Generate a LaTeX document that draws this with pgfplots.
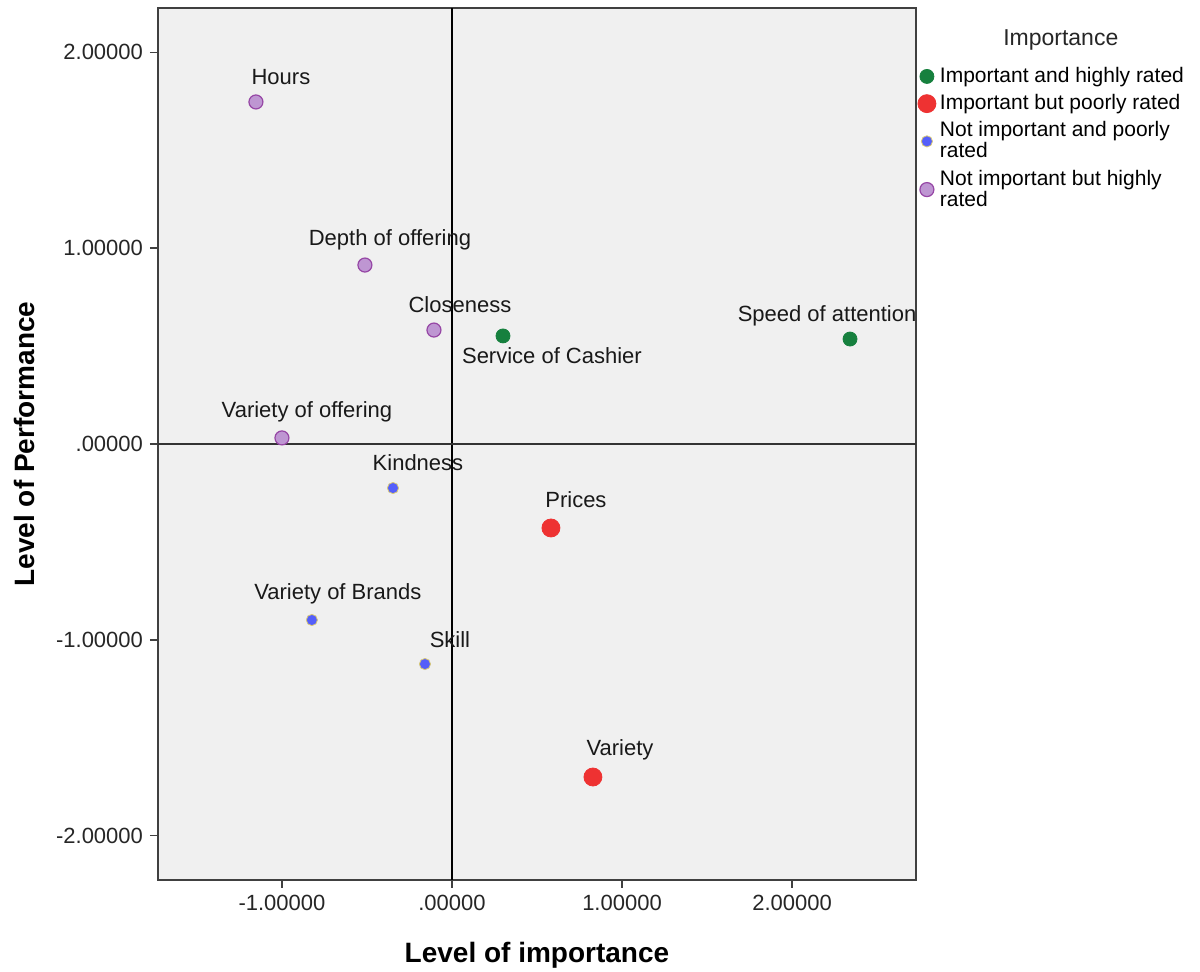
\documentclass[border=0pt]{standalone}
\usepackage{fontspec}
\setmainfont{Liberation Sans}
\usepackage{pgfplots}
\pgfplotsset{compat=1.18}
\definecolor{bgc}{RGB}{240,240,240}
\definecolor{cgreen}{RGB}{22,128,62}
\definecolor{cred}{RGB}{238,50,50}
\definecolor{cblue}{RGB}{85,95,250}
\definecolor{cblueb}{RGB}{215,200,120}
\definecolor{cpurp}{RGB}{190,150,210}
\definecolor{cpurpb}{RGB}{150,70,165}
\begin{document}
\begin{tikzpicture}
\path[use as bounding box] (-79pt,-46pt) rectangle (521pt,440pt);
\begin{axis}[
  scale only axis, width=379pt, height=436pt,
  xmin=-1.729, xmax=2.729, ymin=-2.227, ymax=2.227,
  clip=false,
  axis background/.style={fill=bgc},
  axis line style={line width=1pt, black!75},
  tick align=outside, tick style={line width=0.8pt, black!75},
  xtick pos=bottom, ytick pos=left,
  major tick length=4pt,
  xtick={-1,0,1,2}, xticklabels={-1.00000,.00000,1.00000,2.00000},
  ytick={-2,-1,0,1,2}, yticklabels={-2.00000,-1.00000,.00000,1.00000,2.00000},
  ticklabel style={font=\fontsize{11}{13}\selectfont, text=black!85},
  xlabel={Level of importance}, ylabel={Level of Performance},
  every axis x label/.style={at={(axis description cs:0.5,-0.086)},anchor=center,font=\fontsize{14}{16}\selectfont\bfseries},
  every axis y label/.style={at={(axis description cs:-0.1755,0.5)},rotate=90,anchor=center,font=\fontsize{14}{16}\selectfont\bfseries},
  legend style={at={(rel axis cs:1.002,0.937)}, anchor=north west, draw=none, fill=white,
     font=\fontsize{10.5}{10.5}\selectfont, cells={anchor=west, align=left},
     inner sep=0pt, row sep=0.5pt},
  legend image code/.code={\draw[mark repeat=2,mark phase=2,#1] plot coordinates {(0pt,0pt)(3pt,0pt)(6pt,0pt)};},
]
\draw[line width=1pt, black] (axis cs:0,-2.227) -- (axis cs:0,2.227);
\draw[line width=1pt, black!80] (axis cs:-1.729,0) -- (axis cs:2.729,0);
\addplot[only marks, mark=*, mark size=3.5pt, draw=cgreen, fill=cgreen] coordinates {(0.300,0.552) (2.341,0.536)};
\addlegendentry{Important and highly rated}
\addplot[only marks, mark=*, mark size=4.5pt, draw=cred, fill=cred] coordinates {(0.582,-0.429) (0.829,-1.701)};
\addlegendentry{Important but poorly rated}
\addplot[only marks, mark=*, mark size=2.8pt, draw=cblueb, fill=cblue, line width=0.4pt] coordinates {(-0.347,-0.225) (-0.824,-0.899) (-0.159,-1.124)};
\addlegendentry{Not important and poorly\\rated}
\addplot[only marks, mark=*, mark size=3.5pt, draw=cpurpb, fill=cpurp, line width=0.6pt] coordinates {(-1.153,1.747) (-0.512,0.914) (-0.106,0.582) (-1.0,0.031)};
\addlegendentry{Not important but highly\\rated}
\begin{scope}[every node/.style={font=\fontsize{11}{13}\selectfont, text=black!90}]
\node at (axis cs:-1.006,1.875) {Hours};
\node at (axis cs:-0.365,1.042) {Depth of offering};
\node at (axis cs:0.047,0.710) {Closeness};
\node at (axis cs:0.588,0.450) {Service of Cashier};
\node at (axis cs:2.206,0.654) {Speed of attention};
\node at (axis cs:-0.853,0.163) {Variety of offering};
\node at (axis cs:-0.200,-0.097) {Kindness};
\node at (axis cs:0.729,-0.286) {Prices};
\node at (axis cs:-0.671,-0.766) {Variety of Brands};
\node at (axis cs:-0.012,-1.001) {Skill};
\node at (axis cs:0.988,-1.563) {Variety};
\end{scope}
\node[font=\fontsize{11.5}{13}\selectfont, text=black!85] at (rel axis cs:1.191,0.963) {Importance};
\end{axis}
\end{tikzpicture}
\end{document}
